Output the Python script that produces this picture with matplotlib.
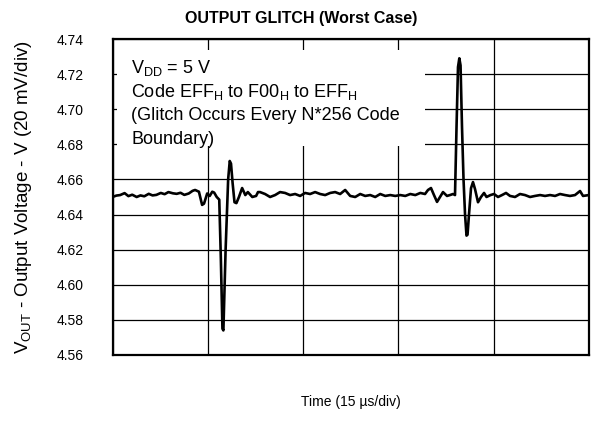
import numpy as np
import matplotlib
matplotlib.use('Agg')
import matplotlib.pyplot as plt
from matplotlib.patches import Rectangle

plt.rcParams['font.family'] = ['Liberation Sans', 'DejaVu Sans']
plt.rcParams['mathtext.default'] = 'regular'

# time in us, output voltage in V
t_us = [0.0, 0.6, 1.2, 1.9, 2.5, 3.1, 3.8, 4.4, 5.0, 5.7, 6.3, 6.9, 7.6, 8.2,
        8.8, 9.5, 10.1, 10.7, 11.3, 12.0, 12.6, 13.0, 13.6, 14.1, 14.4, 14.9,
        15.3, 15.7, 16.0, 16.4, 16.8, 17.05, 17.3, 17.45, 17.8, 18.2, 18.45,
        18.65, 18.9, 19.2, 19.5, 19.9, 20.4, 20.9, 21.3, 22.0, 22.6, 22.9,
        23.22, 24.01, 24.80, 25.59, 26.37, 27.16, 27.95, 28.74, 29.53, 30.31,
        31.10, 31.89, 32.68, 33.47, 34.26, 35.04, 35.83, 36.62, 37.41, 38.20,
        38.99, 39.77, 40.56, 41.35, 42.14, 42.93, 43.72, 44.50, 45.29, 46.08,
        46.87, 47.66, 48.45, 49.19, 49.66, 50.13, 50.60, 51.08, 51.55, 52.02,
        52.65, 53.12, 53.60, 53.91, 54.15, 54.38, 54.59, 54.78, 55.01, 55.25,
        55.49, 55.72, 55.88, 56.11, 56.43, 56.74, 57.06, 57.53, 58.00, 58.48,
        58.87, 59.50, 60.05, 60.68, 61.31, 61.94, 62.57, 63.36, 64.14, 64.93,
        65.72, 66.51, 67.30, 68.08, 68.87, 69.66, 70.44, 71.23, 72.01, 72.80,
        73.59, 74.06, 75.0]
v_out = [4.6500, 4.6508, 4.6511, 4.6522, 4.6505, 4.6513, 4.6500, 4.6509,
         4.6504, 4.6518, 4.6509, 4.6512, 4.6523, 4.6516, 4.6528, 4.6521,
         4.6518, 4.6524, 4.6512, 4.6520, 4.6535, 4.6540, 4.6530, 4.6455,
         4.6462, 4.6520, 4.6506, 4.6530, 4.6525, 4.6500, 4.6485, 4.6150,
         4.5750, 4.5740, 4.6200, 4.6600, 4.6705, 4.6690, 4.6580, 4.6470,
         4.6465, 4.6500, 4.6551, 4.6511, 4.6528, 4.6500, 4.6506, 4.6528,
         4.6528, 4.6517, 4.6500, 4.6511, 4.6528, 4.6523, 4.6511, 4.6517,
         4.6506, 4.6523, 4.6517, 4.6528, 4.6517, 4.6511, 4.6523, 4.6528,
         4.6517, 4.6540, 4.6506, 4.6500, 4.6517, 4.6506, 4.6511, 4.6500,
         4.6517, 4.6506, 4.6511, 4.6506, 4.6511, 4.6506, 4.6517, 4.6511,
         4.6523, 4.6517, 4.6540, 4.6551, 4.6511, 4.6472, 4.6500, 4.6528,
         4.6506, 4.6511, 4.6517, 4.6511, 4.6900, 4.7240, 4.7290, 4.7250,
         4.6900, 4.6600, 4.6400, 4.6280, 4.6285, 4.6400, 4.6550, 4.6585,
         4.6545, 4.6470, 4.6500, 4.6523, 4.6500, 4.6511, 4.6517, 4.6500,
         4.6511, 4.6523, 4.6506, 4.6500, 4.6517, 4.6511, 4.6500, 4.6506,
         4.6511, 4.6506, 4.6511, 4.6506, 4.6517, 4.6511, 4.6506, 4.6511,
         4.6534, 4.6506, 4.6511]

note_lines = ['V$_{DD}$ = 5 V',
              'Code EFF$_{H}$ to F00$_{H}$ to EFF$_{H}$',
              '(Glitch Occurs Every N*256 Code',
              'Boundary)']

fig = plt.figure(figsize=(5.91, 4.23), dpi=100)
ax = fig.add_axes([0.1904, 0.1608, 0.8062, 0.747])

ax.plot(t_us, v_out, color='black', lw=1.9, zorder=3)

ax.set_xlim(0, 75)
ax.set_ylim(4.56, 4.74)
ax.set_xticks(np.arange(0, 76, 15))
ax.set_xticklabels([])
yt = np.arange(4.56, 4.7401, 0.02)
ax.set_yticks(yt)
ax.set_yticklabels(['%.2f' % v for v in yt], fontsize=10)
ax.tick_params(axis='y', direction='in', length=0, pad=21)
ax.tick_params(axis='x', direction='in', length=0, pad=2)
ax.grid(True, color='black', lw=0.9)
ax.set_axisbelow(True)
for s in ax.spines.values():
    s.set_linewidth(1.6)

# white box that hides the grid behind the note
ax.add_patch(Rectangle((0.0094, 0.66), 0.647, 0.305, transform=ax.transAxes,
                       facecolor='white', edgecolor='none', zorder=1))
for i, line in enumerate(note_lines):
    ax.text(0.039, 0.892 - i * 0.0745, line, transform=ax.transAxes,
            fontsize=13, va='baseline', zorder=4)

fig.text(0.51, 0.957, 'OUTPUT GLITCH (Worst Case)', fontsize=11.5,
         fontweight='bold', ha='center', va='center')
ax.set_ylabel('V$_{OUT}$ - Output Voltage - V (20 mV/div)', fontsize=13.5, labelpad=16)
ax.set_xlabel('Time (15 \u00b5s/div)', fontsize=10, labelpad=27)

fig.savefig('out.png', dpi=100)
